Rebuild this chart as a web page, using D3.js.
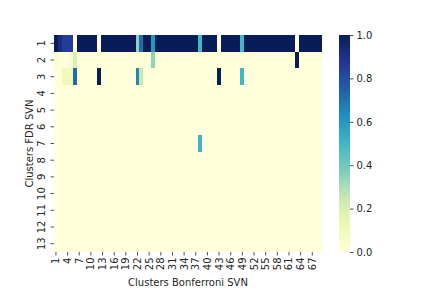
<!DOCTYPE html>
<html>
<head>
<meta charset="utf-8">
<script src="https://cdn.jsdelivr.net/npm/d3@7"></script>
<style>
  body { margin: 0; background: #fff; }
  svg { display: block; font-family: "DejaVu Sans", sans-serif; }
</style>
</head>
<body>
<div id="chart"></div>
<script>
// ------- Data -------
const rowLabels = d3.range(1, 14);   // Clusters FDR SVN
const colLabels = d3.range(1, 70);   // Clusters Bonferroni SVN
const xTickLabels = d3.range(1, 70, 3);
const colorbarTicks = [0, 0.2, 0.4, 0.6, 0.8, 1.0];

const row1 = [1,0.92,0.85,0.85,0.85,0,1,1,1,1,1,0,1,1,1,1,1,1,1,1,1,0.35,0.72,1,1,0.6,1,1,1,1,1,1,1,1,1,1,1,0.5,1,1,1,1,0,1,1,1,1,1,0.5,1,1,1,1,1,1,1,1,1,1,1,1,1,0,1,1,1,1,1,1];
const row2 = [0.03,0,0,0,0.05,0.2,0,0,0,0,0,0,0,0,0,0,0,0,0,0,0,0,0,0,0,0.35,0,0,0,0,0,0,0,0,0,0,0,0,0,0,0,0,0,0,0,0,0,0,0,0,0,0,0,0,0,0,0,0,0,0,0,0,1,0,0,0,0,0,0];
const row3 = [0,0,0.1,0.1,0.1,0.72,0,0,0,0,0,1,0,0,0,0,0,0,0,0,0,0.65,0.25,0,0,0,0,0,0,0,0,0,0,0,0,0,0,0,0,0,0,0,1,0,0,0,0,0,0.5,0,0,0,0,0,0,0,0,0,0,0,0,0,0,0,0,0,0,0,0];
const row7 = [0,0,0,0,0,0,0,0,0,0,0,0,0,0,0,0,0,0,0,0,0,0,0,0,0,0,0,0,0,0,0,0,0,0,0,0,0,0.5,0,0,0,0,0,0,0,0,0,0,0,0,0,0,0,0,0,0,0,0,0,0,0,0,0,0,0,0,0,0,0];
const zeroRow = colLabels.map(() => 0);

const matrix = [row1, row2, row3, zeroRow, zeroRow, zeroRow, row7,
                zeroRow, zeroRow, zeroRow, zeroRow, zeroRow, zeroRow];

// matplotlib YlGnBu stops
const ylgnbu = ["#ffffd9","#edf8b1","#c7e9b4","#7fcdbb","#41b6c4","#1d91c0","#225ea8","#253494","#081d58"];

// ------- Layout -------
const W = 432, H = 288;
const plot = { left: 54, right: 322, top: 35, bottom: 252 };
const cbar = { left: 339, right: 350 };

const svg = d3.select("#chart").append("svg")
  .attr("width", W).attr("height", H);

const x = d3.scaleBand().domain(colLabels).range([plot.left, plot.right]).padding(0);
const y = d3.scaleBand().domain(rowLabels).range([plot.top, plot.bottom]).padding(0);
const color = d3.scaleLinear()
  .domain(d3.range(9).map(i => i / 8))
  .range(ylgnbu)
  .interpolate(d3.interpolateRgb)
  .clamp(true);

const cells = [];
matrix.forEach((row, i) => row.forEach((v, j) => cells.push({ r: rowLabels[i], c: colLabels[j], v })));

svg.append("g").selectAll("rect")
  .data(cells)
  .join("rect")
  .attr("x", d => x(d.c))
  .attr("y", d => y(d.r))
  .attr("width", x.bandwidth() + 0.3)
  .attr("height", y.bandwidth() + 0.3)
  .attr("fill", d => color(d.v))
  .attr("shape-rendering", "crispEdges");

// ------- Axes -------
const xAxis = d3.axisBottom(x).tickValues(xTickLabels).tickSize(3.5).tickPadding(2);
const xg = svg.append("g").attr("transform", `translate(0,${plot.bottom})`).call(xAxis);
xg.select(".domain").remove();
xg.selectAll("text")
  .attr("transform", "rotate(-90)")
  .attr("x", -5.5)
  .attr("y", 0)
  .attr("dy", "0.35em")
  .style("text-anchor", "end");

const yAxis = d3.axisLeft(y).tickSize(3.5).tickPadding(2);
const yg = svg.append("g").attr("transform", `translate(${plot.left},0)`).call(yAxis);
yg.select(".domain").remove();
yg.selectAll("text")
  .attr("transform", "rotate(-90)")
  .attr("x", 0)
  .attr("y", -9)
  .attr("dy", 0)
  .style("text-anchor", "middle");

svg.selectAll(".tick text").attr("font-size", 10).attr("fill", "#262626")
  .attr("font-family", "DejaVu Sans");
svg.selectAll(".tick line").attr("stroke", "#262626").attr("stroke-width", 0.8);

svg.append("text")
  .attr("x", (plot.left + plot.right) / 2)
  .attr("y", 286)
  .attr("text-anchor", "middle")
  .attr("font-size", 10)
  .attr("fill", "#262626")
  .text("Clusters Bonferroni SVN");

svg.append("text")
  .attr("transform", `translate(33,${(plot.top + plot.bottom) / 2}) rotate(-90)`)
  .attr("text-anchor", "middle")
  .attr("font-size", 10)
  .attr("fill", "#262626")
  .text("Clusters FDR SVN");

// ------- Colorbar -------
const defs = svg.append("defs");
const grad = defs.append("linearGradient").attr("id", "cb")
  .attr("x1", 0).attr("y1", 1).attr("x2", 0).attr("y2", 0);
ylgnbu.forEach((c, i) => grad.append("stop").attr("offset", i / 8).attr("stop-color", c));

svg.append("rect")
  .attr("x", cbar.left).attr("y", plot.top)
  .attr("width", cbar.right - cbar.left).attr("height", plot.bottom - plot.top)
  .attr("fill", "url(#cb)");

const cy = d3.scaleLinear().domain([0, 1]).range([plot.bottom, plot.top]);
const cAxis = d3.axisRight(cy).tickValues(colorbarTicks).tickFormat(d3.format(".1f"))
  .tickSize(3.5).tickPadding(3);
const cg = svg.append("g").attr("transform", `translate(${cbar.right},0)`).call(cAxis);
cg.select(".domain").remove();
cg.selectAll("text").attr("font-size", 10).attr("fill", "#262626").attr("font-family", "DejaVu Sans");
cg.selectAll("line").attr("stroke", "#262626").attr("stroke-width", 0.8);
</script>
</body>
</html>
